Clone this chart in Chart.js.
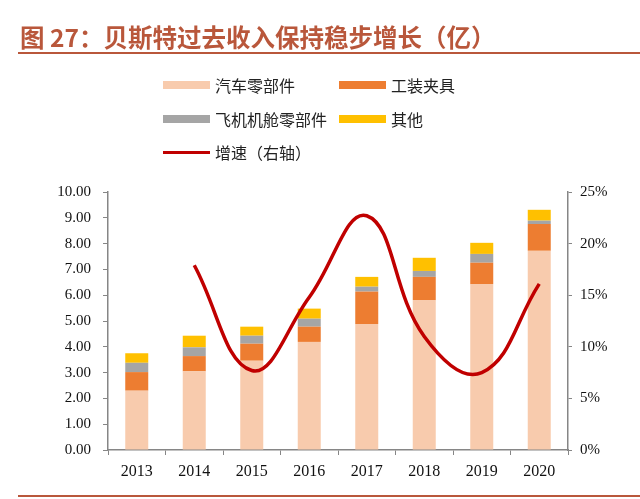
<!DOCTYPE html>
<html><head><meta charset="utf-8">
<script src="https://cdn.jsdelivr.net/npm/chart.js@4/dist/chart.umd.min.js"></script>
<style>
html,body{margin:0;padding:0;background:#fff;}
#wrap{position:relative;width:640px;height:499px;overflow:hidden;}
#c{position:absolute;left:0;top:0;}
#title{position:absolute;left:20px;top:22px;font-family:"Noto Sans CJK SC";font-weight:bold;font-size:24.5px;color:#B9573B;white-space:nowrap;line-height:30px;}
#rule1{position:absolute;left:18px;top:52px;width:622px;height:2px;background:#B9573B;}
#rule2{position:absolute;left:18px;top:495px;width:622px;height:2px;background:#B9573B;}
.lg{position:absolute;font-family:"Noto Sans CJK SC";font-size:16px;color:#222;white-space:nowrap;line-height:20px;}
.sw{position:absolute;width:47px;}
</style></head>
<body><div id="wrap">
<canvas id="c" width="640" height="499"></canvas>
<div id="title">图 27：贝斯特过去收入保持稳步增长（亿）</div>
<div id="rule1"></div>
<div id="legend"></div>
<div id="rule2"></div>
</div>
<script>
const years = ['2013','2014','2015','2016','2017','2018','2019','2020'];
const autoParts = [2.30, 3.05, 3.46, 4.19, 4.88, 5.81, 6.43, 7.72];
const fixtures  = [0.72, 0.59, 0.66, 0.59, 1.26, 0.90, 0.83, 1.04];
const aircraft  = [0.36, 0.34, 0.31, 0.31, 0.19, 0.23, 0.34, 0.13];
const others    = [0.37, 0.45, 0.35, 0.39, 0.38, 0.51, 0.43, 0.42];
const growth    = [null, 17.9, 7.7, 14.8, 22.7, 11.0, 7.5, 16.1];
const seriesNames = ['汽车零部件','工装夹具','飞机机舱零部件','其他','增速（右轴）'];
const leftTicks = [0,1,2,3,4,5,6,7,8,9,10];
const rightTicks = [0,5,10,15,20,25];

const colors = ['#F8CBAD','#ED7D31','#A5A5A5','#FFC000','#C00000'];

// HTML legend
const lgPos = [[163,85],[339,85],[163,119],[339,119],[163,152]];
const lg = document.getElementById('legend');
seriesNames.forEach((n,i)=>{
  const [x,y] = lgPos[i];
  const sw = document.createElement('div');
  sw.className='sw';
  const h = i===4?3:8;
  sw.style.cssText += `left:${x}px;top:${y-h/2}px;height:${h}px;background:${colors[i]};`;
  lg.appendChild(sw);
  const t = document.createElement('div');
  t.className='lg';
  t.textContent = n;
  t.style.left = (x+52)+'px';
  t.style.top = (y-10)+'px';
  lg.appendChild(t);
});

const serif = {family:'"Liberation Serif", "Times New Roman", serif', size:15};
const serifX = {family:'"Liberation Serif", "Times New Roman", serif', size:16};
const axisColor = '#868686';

new Chart(document.getElementById('c'), {
  data: {
    labels: years,
    datasets: [
      {type:'line', label:seriesNames[4], data:growth, yAxisID:'y1', borderColor:colors[4], borderWidth:3.5, pointRadius:0, tension:0.42, order:0, fill:false},
      {type:'bar', label:seriesNames[0], data:autoParts, backgroundColor:colors[0], stack:'s', order:1},
      {type:'bar', label:seriesNames[1], data:fixtures, backgroundColor:colors[1], stack:'s', order:1},
      {type:'bar', label:seriesNames[2], data:aircraft, backgroundColor:colors[2], stack:'s', order:1},
      {type:'bar', label:seriesNames[3], data:others, backgroundColor:colors[3], stack:'s', order:1}
    ]
  },
  options: {
    responsive:false, animation:false,
    devicePixelRatio:1,
    layout:{padding:{top:192,left:0,right:0,bottom:0}},
    plugins:{legend:{display:false}, tooltip:{enabled:false}, title:{display:false}},
    datasets:{bar:{categoryPercentage:1, barPercentage:0.4}},
    scales:{
      x:{
        stacked:true,
        grid:{display:true, drawOnChartArea:false, drawTicks:true, tickLength:5, color:axisColor, offset:true},
        border:{display:true, color:axisColor, width:1.5},
        ticks:{font:serifX, color:'#111', padding:7, maxRotation:0},
        afterFit:(s)=>{s.height=49;}
      },
      y:{
        position:'left', stacked:true, min:0, max:10,
        afterBuildTicks:(s)=>{s.ticks = leftTicks.map(v=>({value:v}));},
        grid:{display:true, drawOnChartArea:false, drawTicks:true, tickLength:5, color:axisColor},
        border:{display:true, color:axisColor, width:1.5},
        ticks:{font:serif, color:'#111', padding:12, callback:(v)=>Number(v).toFixed(2)},
        afterFit:(s)=>{s.width=108;}
      },
      y1:{
        position:'right', min:0, max:25,
        afterBuildTicks:(s)=>{s.ticks = rightTicks.map(v=>({value:v}));},
        grid:{display:true, drawOnChartArea:false, drawTicks:true, tickLength:4, color:axisColor},
        border:{display:true, color:axisColor, width:1.5},
        ticks:{font:serif, color:'#111', padding:8, callback:(v)=>v+'%'},
        afterFit:(s)=>{s.width=72;}
      }
    }
  }
});
</script>
</body></html>
